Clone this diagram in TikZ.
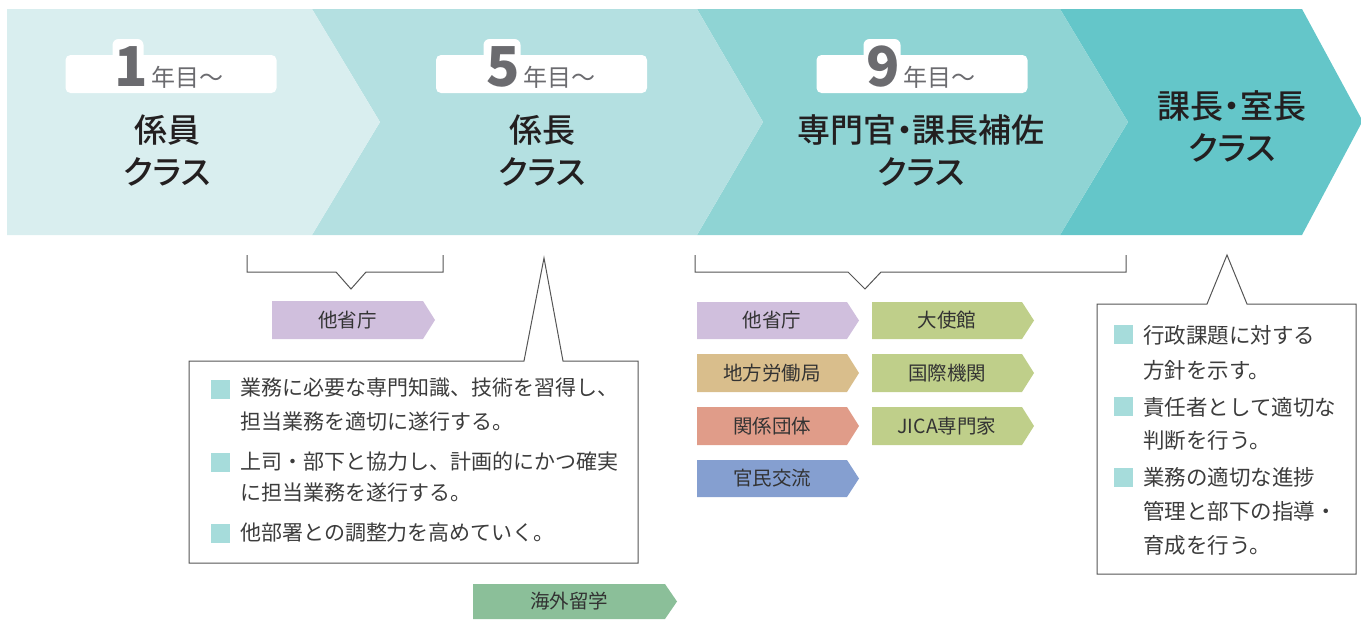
\documentclass[tikz,border=0pt]{standalone}
\usepackage{fontspec}
\setmainfont{Noto Sans CJK JP}
\newfontfamily\titlefont{Noto Sans CJK JP Medium}[RawFeature=+palt]
\usetikzlibrary{calc}
\XeTeXlinebreaklocale "ja"
\XeTeXlinebreakskip=0pt plus 1pt
\definecolor{segA}{HTML}{D9EEEF}
\definecolor{segB}{HTML}{B4E0E1}
\definecolor{segC}{HTML}{8FD4D4}
\definecolor{segD}{HTML}{64C6C9}
\definecolor{tagLav}{HTML}{D0BFDD}
\definecolor{tagTan}{HTML}{D9BE8C}
\definecolor{tagSal}{HTML}{E09C89}
\definecolor{tagBlue}{HTML}{859FD0}
\definecolor{tagGrn}{HTML}{BFCF8A}
\definecolor{tagSea}{HTML}{8BBF99}
\definecolor{tagink}{HTML}{333333}
\definecolor{titleink}{HTML}{231F20}
\definecolor{yearink}{HTML}{6B6B6F}
\definecolor{bodyink}{HTML}{3C3C3C}
\definecolor{bulletc}{HTML}{A6DCDB}
\definecolor{framec}{HTML}{555555}
\newcommand\fs[1]{\fontsize{#1}{#1}\selectfont}
\newcommand\mktag[7]{%
  \fill[#6] (#2,#3) -- ++(#4,0) -- ++(12,#5/2) -- ++(-12,#5/2) -- ++(-#4,0) -- cycle;
  \node[tagtext] (#1) at (#2+#4/2,#3+#5/2) {#7};}
\begin{document}
\begin{tikzpicture}[x=1pt,y=-1pt,
  tagtext/.style={inner sep=0pt, font=\fs{19.5}, text=tagink},
  title/.style={inner sep=0pt, font=\titlefont\fs{33}, text=titleink},
  yearbox/.style={fill=white, rounded corners=5pt, minimum width=211pt, minimum height=38pt, inner sep=0pt},
  halo/.style={fill=white, rounded corners=6pt, minimum height=24pt, inner sep=0pt},
  yeartext/.style={inner sep=0pt, text=yearink, anchor=base},
  bodytext/.style={inner sep=0pt, anchor=west, font=\fs{21}, text=bodyink},
  bodytextb/.style={inner sep=0pt, anchor=west, font=\fs{21.5}, text=bodyink},
  bullet/.style={fill=bulletc, minimum size=19pt, inner sep=0pt},
  frame/.style={draw=framec, line width=1pt, line join=miter},
]
\useasboundingbox (0,0) rectangle (1361,619);
% banner segments
\fill[segD] (1060,9) -- (1302,9) -- (1361,118) -- (1361,124) -- (1302,235) -- (1060,235) -- (1128,122) -- cycle;
\fill[segC] (697,9) -- (1060,9) -- (1128,122) -- (1060,235) -- (697,235) -- (763,122) -- cycle;
\fill[segB] (312,9) -- (697,9) -- (763,122) -- (697,235) -- (312,235) -- (380,122) -- cycle;
\fill[segA] (7,9) -- (312,9) -- (380,122) -- (312,235) -- (7,235) -- cycle;
% year boxes
\node[yearbox] (b1) at (171,74) {};
\node[yearbox] (b2) at (541.5,74) {};
\node[yearbox] (b3) at (922,74) {};
\node[halo, minimum width=31pt] (h1) at (128,51) {};
\node[halo, minimum width=37pt] (h2) at (502,51) {};
\node[halo, minimum width=37pt] (h3) at (882,51) {};
\node[yeartext] (n1) at (169,86) {{\bfseries\fs{55}1}\hspace{3pt}{\fs{24}年目～}};
\node[yeartext] (n2) at (541,86) {{\bfseries\fs{55}5}\hspace{3pt}{\fs{24}年目～}};
\node[yeartext] (n3) at (921,86) {{\bfseries\fs{55}9}\hspace{3pt}{\fs{24}年目～}};
% titles
\node[title] (c1a) at (167,130) {係員};
\node[title] (c1b) at (167,172) {クラス};
\node[title] (c2a) at (542,130) {係長};
\node[title] (c2b) at (542,172) {クラス};
\node[title] (c3a) at (921,130) {専門官・課長補佐};
\node[title] (c3b) at (921,172) {クラス};
\node[title] (c4a) at (1232,106) {課長・室長};
\node[title] (c4b) at (1232,148) {クラス};
% brackets
\draw[frame] (247,255) -- (247,272) -- (336,272) -- (351,289) -- (366,272) -- (443,272) -- (443,255);
\draw[frame] (695,255) -- (695,272) -- (848,272) -- (865,289) -- (881,272) -- (1126,272) -- (1126,255);
% tags
\mktag{tg1}{272}{301}{151}{38}{tagLav}{他省庁}
\mktag{tg2}{697}{302}{150}{37}{tagLav}{他省庁}
\mktag{tg3}{697}{354}{150}{38}{tagTan}{地方労働局}
\mktag{tg4}{697}{407}{150}{38}{tagSal}{関係団体}
\mktag{tg5}{697}{460}{150}{37}{tagBlue}{官民交流}
\mktag{tg6}{872}{302}{150}{37}{tagGrn}{大使館}
\mktag{tg7}{872}{354}{150}{38}{tagGrn}{国際機関}
\mktag{tg8}{872}{407}{150}{38}{tagGrn}{JICA専門家}
\mktag{tg9}{473}{584}{192}{35}{tagSea}{海外留学}
% callout 1
\draw[frame] (189,361) -- (524,361) -- (544,258) -- (563,361) -- (638,361) -- (638,563) -- (189,563) -- cycle;
\node[bullet] (p1) at (220.5,389) {};
\node[bullet] (p2) at (220.5,462) {};
\node[bullet] (p3) at (220.5,533) {};
\node[bodytext] (t1) at (240,388) {業務に必要な専門知識、技術を習得し、};
\node[bodytext] (t2) at (240,422) {担当業務を適切に遂行する。};
\node[bodytext] (t3) at (240,462) {上司・部下と協力し、計画的にかつ確実};
\node[bodytext] (t4) at (240,493) {に担当業務を遂行する。};
\node[bodytext] (t5) at (240,533) {他部署との調整力を高めていく。};
% callout 2
\draw[frame] (1097,304) -- (1207,304) -- (1227,255) -- (1247,304) -- (1356,304) -- (1356,574) -- (1097,574) -- cycle;
\node[bullet] (q1) at (1123.5,334) {};
\node[bullet] (q2) at (1123.5,406) {};
\node[bullet] (q3) at (1123.5,477) {};
\node[bodytextb] (u1) at (1143,335) {\makebox[195pt][s]{行政課題に対する}};
\node[bodytextb] (u2) at (1143,370) {方針を示す。};
\node[bodytextb] (u3) at (1143,407) {責任者として適切な};
\node[bodytextb] (u4) at (1143,440) {判断を行う。};
\node[bodytextb] (u5) at (1143,477) {\makebox[195pt][s]{業務の適切な進捗}};
\node[bodytextb] (u6) at (1143,511) {管理と部下の指導・};
\node[bodytextb] (u7) at (1143,545) {育成を行う。};
\end{tikzpicture}
\end{document}
